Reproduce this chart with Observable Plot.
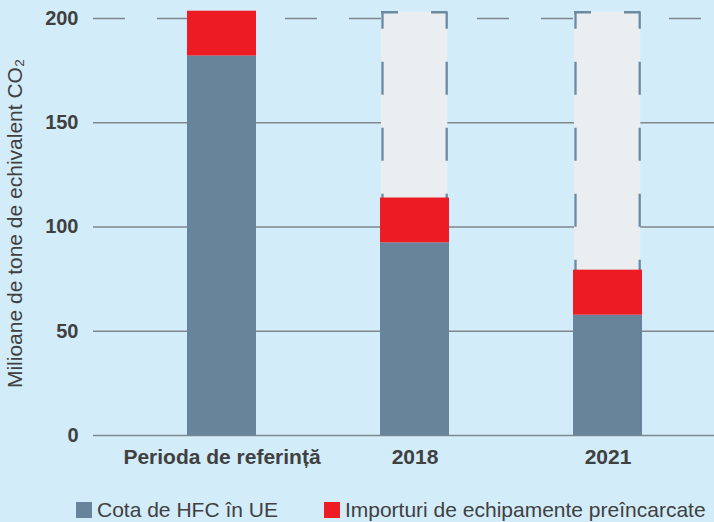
<!DOCTYPE html>
<html>
<head>
<meta charset="utf-8">
<script src="https://cdn.jsdelivr.net/npm/d3@7"></script>
<script src="https://cdn.jsdelivr.net/npm/@observablehq/plot@0.6"></script>
<style>
  html, body { margin: 0; padding: 0; background: #d2ecfa; overflow: hidden; width: 714px; height: 522px; }
  #chart svg { display: block; }
  #legend { display: flex; align-items: center; height: 30px; padding-left: 76px;
    font-family: 'Liberation Sans', Arial, sans-serif; font-size: 21px; color: #404040; }
  #legend .item { display: flex; align-items: center; }
  #legend .sw { width: 16px; height: 16px; margin-right: 5px; display: inline-block; }
</style>
</head>
<body>
<div id="chart"></div>
<div id="legend"></div>
<script>
const categories = ["Perioda de referință", "2018", "2021"];
const cotaHFC = [182, 92.4, 57.7];
const importuri = [21.5, 21.5, 21.6];
const limita = [null, 203, 203];
const yTicks = [0, 50, 100, 150, 200];
const seriesNames = ["Cota de HFC în UE", "Importuri de echipamente preîncarcate"];
const seriesColors = ["#67849a", "#ed1c24"];
const yTitle = "Milioane de tone de echivalent CO₂";

const rows = [];
categories.forEach((c, i) => {
  rows.push({cat: c, serie: seriesNames[0], value: cotaHFC[i]});
  rows.push({cat: c, serie: seriesNames[1], value: importuri[i]});
});
const boxes = categories.map((c, i) => ({cat: c, top: limita[i]})).filter(d => d.top != null);

const gridColor = "#7f878e";
const boxStroke = "#6a8aa2";
const textColor = "#404040";

const chart = Plot.plot({
  width: 714,
  height: 495,
  marginLeft: 93,
  marginRight: 0,
  marginTop: 18,
  marginBottom: 60,
  style: {fontFamily: "'Liberation Sans', Arial, sans-serif", background: "transparent", overflow: "visible"},
  x: {domain: categories, range: [90.5, 738.5], paddingInner: 0.6425, paddingOuter: 0.5, round: false},
  y: {domain: [0, 200]},
  color: {domain: seriesNames, range: seriesColors},
  marks: [
    Plot.ruleY(yTicks.filter(t => t !== 200), {stroke: gridColor, strokeWidth: 1.4}),
    Plot.ruleY([200], {stroke: gridColor, strokeWidth: 1.4, strokeDasharray: "32,32"}),
    Plot.barY(boxes, {x: "cat", y: "top", fill: "#eaeef1", insetLeft: 1, insetRight: 1.7}),
    Plot.ruleX(boxes, {x: "cat", y1: "top", y2: 0, dx: -32.5, stroke: boxStroke, strokeWidth: 2.3, strokeDasharray: "33,33", strokeDashoffset: 16}),
    Plot.ruleX(boxes, {x: "cat", y1: "top", y2: 0, dx: 31.7, stroke: boxStroke, strokeWidth: 2.3, strokeDasharray: "33,33", strokeDashoffset: 16}),
    Plot.tickY(boxes, {x: "cat", y: "top", insetLeft: 1, insetRight: 1.7, stroke: boxStroke, strokeWidth: 2.3, strokeDasharray: "33,33", strokeDashoffset: 16}),
    Plot.barY(rows, {x: "cat", y: "value", fill: "serie"}),
    Plot.axisY(yTicks, {tickSize: 0, tickPadding: 15, fontSize: 20, fontWeight: "bold", color: textColor, label: null}),
    Plot.axisX({tickSize: 0, tickPadding: 14, fontSize: 21, fontWeight: "bold", color: textColor, label: null}),
    Plot.text([yTitle], {frameAnchor: "left", textAnchor: "middle", lineAnchor: "middle", rotate: -90, dx: -78, dy: -3.5, fontSize: 21, fill: textColor})
  ]
});
document.getElementById("chart").appendChild(chart);

const legend = document.getElementById("legend");
seriesNames.forEach((name, i) => {
  const item = document.createElement("span");
  item.className = "item";
  if (i > 0) item.style.marginLeft = "46px";
  const sw = document.createElement("span");
  sw.className = "sw";
  sw.style.background = seriesColors[i];
  const label = document.createElement("span");
  label.textContent = name;
  item.appendChild(sw);
  item.appendChild(label);
  legend.appendChild(item);
});
</script>
</body>
</html>
